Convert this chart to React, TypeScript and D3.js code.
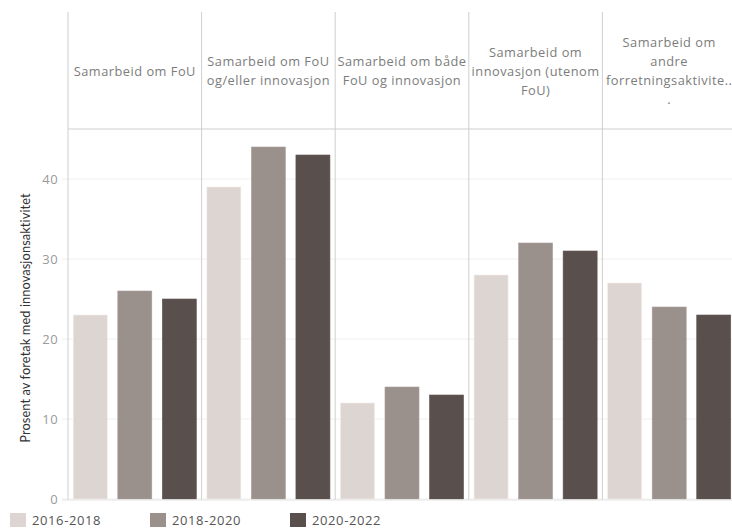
import React from "react";
import * as d3 from "d3";

const categories = [
  ["Samarbeid om FoU"],
  ["Samarbeid om FoU", "og/eller innovasjon"],
  ["Samarbeid om både", "FoU og innovasjon"],
  ["Samarbeid om", "innovasjon (utenom", "FoU)"],
  ["Samarbeid om", "andre", "forretningsaktivite..", "."],
];
const periods = ["2016-2018", "2018-2020", "2020-2022"];
const v2016 = [23, 39, 12, 28, 27];
const v2018 = [26, 44, 14, 32, 24];
const v2020 = [25, 43, 13, 31, 23];
const yTicks = [0, 10, 20, 30, 40];
const colors = ["#dcd5d2", "#9a908c", "#594f4c"];

const W = 732, H = 528;
const left = 68, right = 736, headTop = 12, headBottom = 129, base = 499;

export default function App() {
  const series = [v2016, v2018, v2020];
  const x = d3.scaleBand<number>().domain(d3.range(categories.length)).range([left, right]).padding(0);
  const inner = d3.scaleBand<number>().domain([0, 1, 2]).range([0, x.bandwidth()]).paddingInner(0.236).paddingOuter(0.118);
  const y = d3.scaleLinear().domain([0, 46.25]).range([base, headBottom]);
  const font = "'Open Sans', Lato, sans-serif";
  return (
    <svg width={W} height={H} style={{ position: "absolute", left: 0, top: 0, background: "#fff" }} fontFamily={font}>
      {yTicks.map((t) => (
        <g key={t}>
          <line x1={62} x2={right} y1={y(t)} y2={y(t)} stroke="#f0f0f0" strokeWidth={1} />
          <text x={58} y={y(t)} dy="0.35em" textAnchor="end" fontSize={13} fill="#9a9a9a" letterSpacing={0.4}>{t}</text>
        </g>
      ))}
      {categories.map((c, i) => (
        <g key={i}>
          <line x1={x(i)!} x2={x(i)!} y1={headTop} y2={base + 1} stroke="#cfcfcf" strokeWidth={1} />
          {c.map((ln, j) => (
            <text key={j} x={x(i)! + x.bandwidth() / 2} y={(headTop + headBottom) / 2 + 1 + (j - (c.length - 1) / 2) * 19}
              dy="0.35em" textAnchor="middle" fontSize={12.8} fill="#7c7c7c" letterSpacing={0.5}>{ln}</text>
          ))}
          {series.map((s, k) => (
            <rect key={k} x={x(i)! + inner(k)!} y={y(s[i])} width={inner.bandwidth()} height={base - y(s[i])}
              fill={colors[k]} stroke={d3.color(colors[k])!.brighter(0.3).toString()} strokeWidth={0.6} />
          ))}
        </g>
      ))}
      <line x1={left} x2={right} y1={headBottom} y2={headBottom} stroke="#cfcfcf" />
      <line x1={62} x2={right} y1={base + 1} y2={base + 1} stroke="#e4e4e4" />
      <text transform={`translate(30,${(headBottom + base) / 2 + 4}) rotate(-90)`} textAnchor="middle" fontSize={12.8} fill="#333"
        fontFamily="Lato, sans-serif" letterSpacing={0.1}>
        Prosent av foretak med innovasjonsaktivitet
      </text>
      {periods.map((p, k) => (
        <g key={p} transform={`translate(${10 + k * 140},513)`}>
          <rect width={16} height={14} fill={colors[k]} />
          <text x={22} y={7} dy="0.35em" fontSize={13} fill="#555" letterSpacing={0.6}>{p}</text>
        </g>
      ))}
    </svg>
  );
}
